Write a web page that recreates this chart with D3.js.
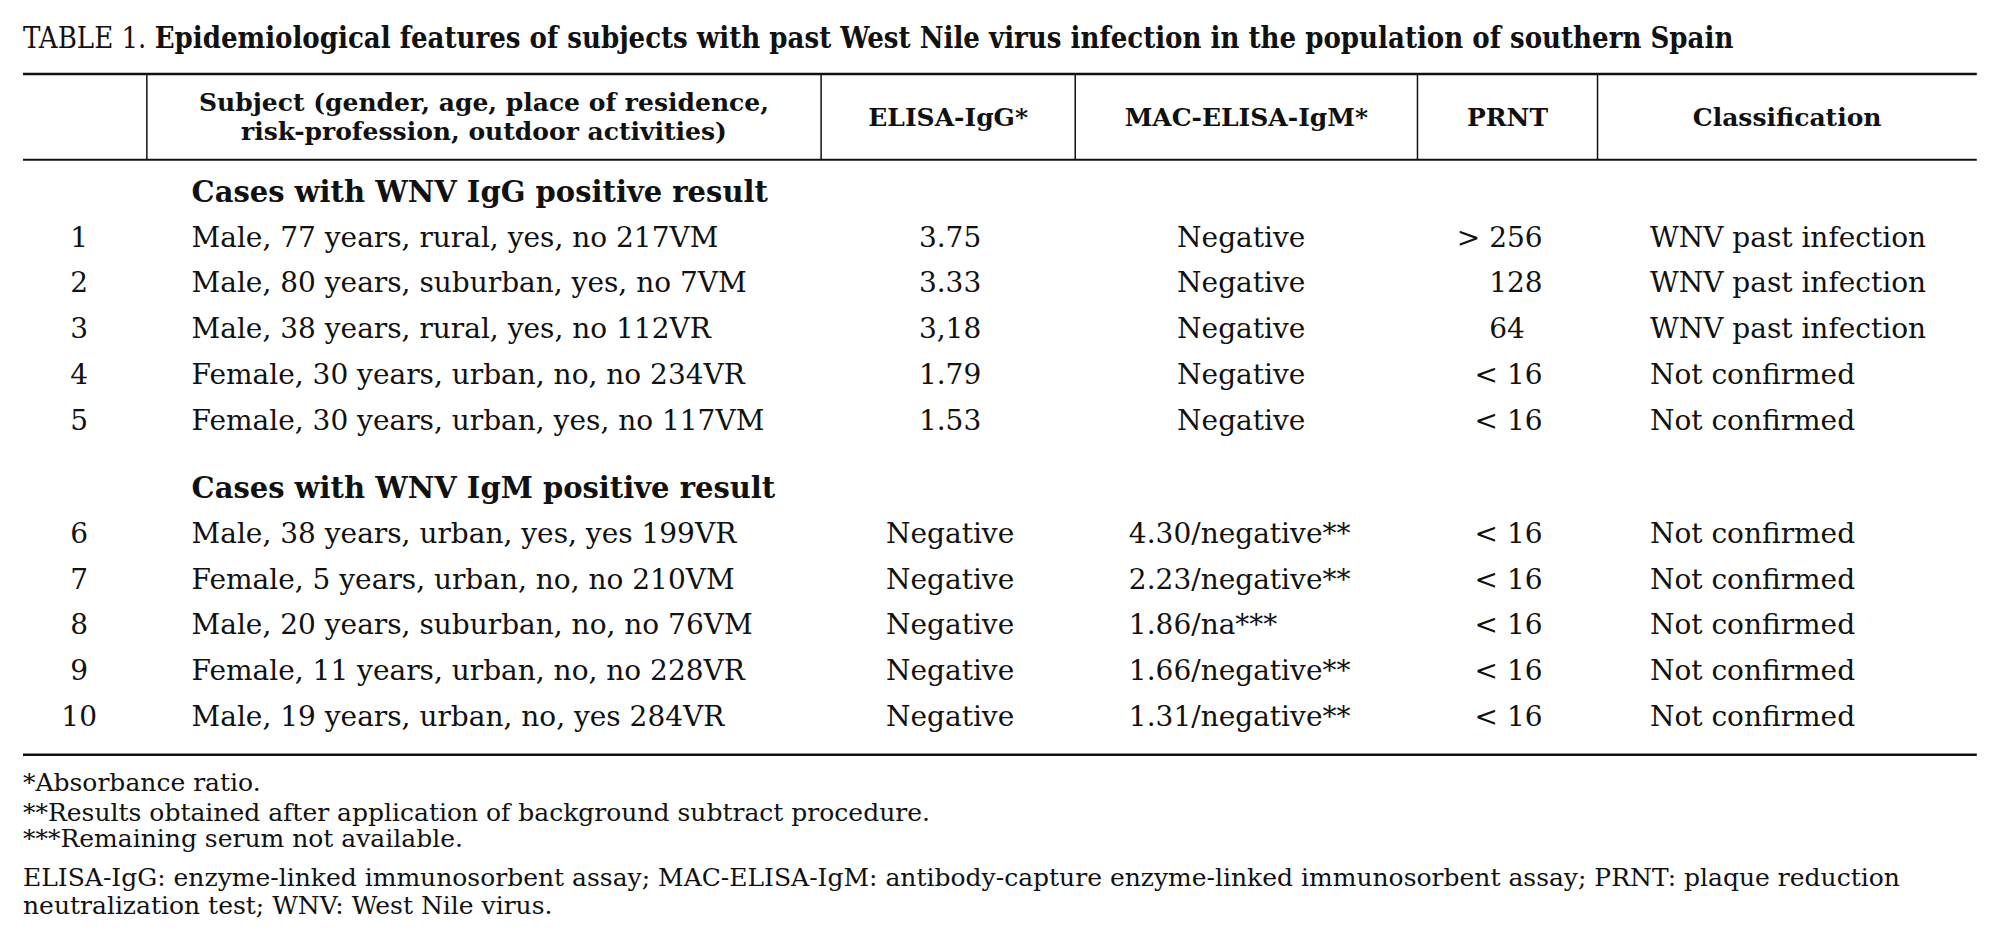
<!DOCTYPE html>
<html><head><meta charset="utf-8">
<script src="https://cdn.jsdelivr.net/npm/d3@7"></script>
<style>body{margin:0;background:#fff}text{font-family:"DejaVu Serif";fill:#111}</style>
</head><body><svg id="svg"></svg>
<script>
// Table content
const headers = ["", "Subject (gender, age, place of residence,|risk-profession, outdoor activities)", "ELISA-IgG*", "MAC-ELISA-IgM*", "PRNT", "Classification"];
const sections = ["Cases with WNV IgG positive result", "Cases with WNV IgM positive result"];
const ids = ["1", "2", "3", "4", "5", "6", "7", "8", "9", "10"];
const subjects = ["Male, 77 years, rural, yes, no 217VM", "Male, 80 years, suburban, yes, no 7VM", "Male, 38 years, rural, yes, no 112VR",
  "Female, 30 years, urban, no, no 234VR", "Female, 30 years, urban, yes, no 117VM", "Male, 38 years, urban, yes, yes 199VR",
  "Female, 5 years, urban, no, no 210VM", "Male, 20 years, suburban, no, no 76VM", "Female, 11 years, urban, no, no 228VR",
  "Male, 19 years, urban, no, yes 284VR"];
const elisaIgG = ["3.75", "3.33", "3,18", "1.79", "1.53", "Negative", "Negative", "Negative", "Negative", "Negative"];
const macIgM = ["Negative", "Negative", "Negative", "Negative", "Negative", "4.30/negative**", "2.23/negative**", "1.86/na***", "1.66/negative**", "1.31/negative**"];
const prnt = ["> 256", "128", "64", "< 16", "< 16", "< 16", "< 16", "< 16", "< 16", "< 16"];
const classification = ["WNV past infection", "WNV past infection", "WNV past infection", "Not confirmed", "Not confirmed",
  "Not confirmed", "Not confirmed", "Not confirmed", "Not confirmed", "Not confirmed"];
const footnotes = ["*Absorbance ratio.", "**Results obtained after application of background subtract procedure.", "***Remaining serum not available.",
  "ELISA-IgG: enzyme-linked immunosorbent assay; MAC-ELISA-IgM: antibody-capture enzyme-linked immunosorbent assay; PRNT: plaque reduction",
  "neutralization test; WNV: West Nile virus."];
const rowSlots = [1, 2, 3, 4, 5, 7.48, 8.48, 9.48, 10.48, 11.48];
const sectionSlots = [0, 6.48];

let width = 1992, height = 938;
const svg = d3.select("#svg").attr("width", width).attr("height", height);

const k = 1.277;
const y = d3.scaleLinear().domain([0, 1]).range([150 * k, 185.8 * k]);
const colEdges = [18, 115, 643, 842, 1110, 1251, 1548].map(d => d * k);

// title
const title = svg.append("text").attr("x", 18 * k).attr("y", 48).attr("font-size", 29);
title.append("tspan").attr("font-family", "DejaVu Serif Condensed").text("TABLE 1.  ");
title.append("tspan").attr("font-family", "DejaVu Serif Condensed").attr("font-weight", "bold")
  .text("Epidemiological features of subjects with past West Nile virus infection in the population of southern Spain");

// rules
[[58, 2.5], [125, 2], [591, 2.5]].forEach(([yy, w]) => {
  svg.append("line").attr("x1", colEdges[0]).attr("x2", colEdges[6]).attr("y1", yy * k).attr("y2", yy * k)
    .attr("stroke", "#111").attr("stroke-width", w);
});
colEdges.slice(1, 6).forEach(x => {
  svg.append("line").attr("x1", x).attr("x2", x).attr("y1", 58 * k).attr("y2", 125 * k).attr("stroke", "#111").attr("stroke-width", 1.5);
});

// headers
headers.forEach((h, i) => {
  const cx = (colEdges[i] + colEdges[i + 1]) / 2;
  const lines = h.split("|");
  lines.forEach((ln, j) => {
    svg.append("text").attr("x", cx).attr("y", (lines.length === 1 ? 92 : 80 + j * 23) * k)
      .attr("text-anchor", "middle").attr("dominant-baseline", "central")
      .attr("font-weight", "bold").attr("font-size", 25).text(ln);
  });
});

// sections
svg.selectAll(".sec").data(sections).enter().append("text")
  .attr("x", 150 * k).attr("y", (d, i) => y(sectionSlots[i])).attr("dominant-baseline", "central")
  .attr("font-weight", "bold").attr("font-size", 29).text(d => d);

// body rows
const fs = 28;
const rows = svg.selectAll(".row").data(ids).enter().append("g")
  .attr("transform", (d, i) => "translate(0," + y(rowSlots[i]) + ")");
const cell = (sel, x, anchor, fn) => sel.append("text").attr("x", x).attr("text-anchor", anchor)
  .attr("dominant-baseline", "central").attr("font-size", fs).text(fn);
cell(rows, 62 * k, "middle", d => d);
cell(rows, 150 * k, "start", (d, i) => subjects[i]);
cell(rows, 744 * k, "middle", (d, i) => elisaIgG[i]);
rows.append("text").attr("dominant-baseline", "central").attr("font-size", fs)
  .attr("x", (d, i) => macIgM[i] === "Negative" ? 972 * k : 884 * k)
  .attr("text-anchor", (d, i) => macIgM[i] === "Negative" ? "middle" : "start")
  .text((d, i) => macIgM[i]);
cell(rows, 1208 * k, "end", (d, i) => prnt[i] === "64" ? "64\u2007" : prnt[i]);
cell(rows, 1292 * k, "start", (d, i) => classification[i]);

// footnotes
const fy = [613, 636, 657, 687, 709];
svg.selectAll(".fn").data(footnotes).enter().append("text")
  .attr("x", 18 * k).attr("y", (d, i) => fy[i] * k).attr("dominant-baseline", "central")
  .attr("font-size", 25).text(d => d);
</script></body></html>
